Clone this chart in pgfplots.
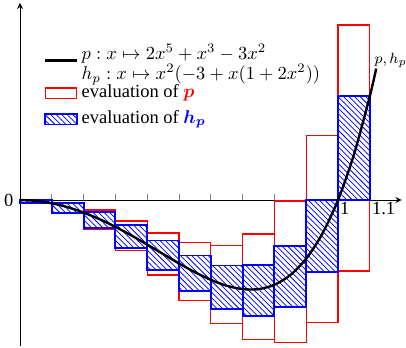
\documentclass[border=0pt]{standalone}
\usepackage{amsmath}
\usepackage{bm}
\usepackage{pgfplots}
\pgfplotsset{compat=1.18}
\usepackage{fontspec}
\setmainfont{Liberation Serif}
\usetikzlibrary{patterns}

\pgfplotsset{
  pbox/.style={draw=red, line width=0.7pt, mark=none, forget plot},
  hbox/.style={draw=blue, line width=1pt, mark=none, forget plot,
               pattern=north west lines, pattern color=blue},
}

\begin{document}
\begin{tikzpicture}
\begin{axis}[
  anchor=origin, at={(0,0)},
  x=171.9pt, y=60.9pt,
  xmin=0, xmax=1.2, ymin=-1.30, ymax=1.75,
  axis lines=middle,
  axis line style={-stealth, line width=0.5pt},
  xtick={0.1,0.2,0.3,0.4,0.5,0.6,0.7,0.8,0.9,1.0,1.1},
  xticklabels={,,,,,,,,,1,1.1},
  ytick={0}, yticklabels={0},
  hide obscured y ticks=false,
  tick align=inside,
  major tick length=3pt,
  tick style={line width=0.5pt},
  x tick label style={anchor=north west, inner sep=1pt},
  clip=false,
  legend cell align=left,
  legend style={at={(axis cs:0.057,1.452)}, anchor=north west,
                draw=none, fill=none, row sep=0.6pt,
                nodes={text depth=, text height=}},
]
% legend samples
\addlegendimage{black, line width=1.3pt}
\addlegendentry{\raisebox{0pt}[\height][\dimexpr\depth-4.6pt\relax]{%
  \def\arraystretch{0.8}$\begin{array}{@{}l@{}}
  p : x \mapsto 2x^5+x^3-3x^2\\
  h_p : x \mapsto x^2(-3+x(1+2x^2))
  \end{array}$}}
\addlegendimage{area legend, draw=red, line width=0.7pt, fill=none}
\addlegendentry{evaluation of \textcolor{red}{$\bm{p}$}}
\addlegendimage{area legend, draw=blue, line width=1pt,
                pattern=north west lines, pattern color=blue}
\addlegendentry{evaluation of \textcolor{blue}{$\bm{h_p}$}}

% interval evaluation of p (naive form)
\addplot[pbox] coordinates {(0.0,-0.03000) (0.1,-0.03000) (0.1,0.00102) (0.0,0.00102)} -- cycle;
\addplot[pbox] coordinates {(0.1,-0.11898) (0.2,-0.11898) (0.2,-0.02136) (0.1,-0.02136)} -- cycle;
\addplot[pbox] coordinates {(0.2,-0.26136) (0.3,-0.26136) (0.3,-0.08814) (0.2,-0.08814)} -- cycle;
\addplot[pbox] coordinates {(0.3,-0.44814) (0.4,-0.44814) (0.4,-0.18552) (0.3,-0.18552)} -- cycle;
\addplot[pbox] coordinates {(0.4,-0.66552) (0.5,-0.66552) (0.5,-0.29250) (0.4,-0.29250)} -- cycle;
\addplot[pbox] coordinates {(0.5,-0.89250) (0.6,-0.89250) (0.6,-0.37848) (0.5,-0.37848)} -- cycle;
\addplot[pbox] coordinates {(0.6,-1.09848) (0.7,-1.09848) (0.7,-0.40286) (0.6,-0.40286)} -- cycle;
\addplot[pbox] coordinates {(0.7,-1.24086) (0.8,-1.24086) (0.8,-0.30264) (0.7,-0.30264)} -- cycle;
\addplot[pbox] coordinates {(0.8,-1.26264) (0.9,-1.26264) (0.9,-0.00998) (0.8,-0.00998)} -- cycle;
\addplot[pbox] coordinates {(0.9,-1.09002) (1.0,-1.09002) (1.0,0.57000) (0.9,0.57000)} -- cycle;
\addplot[pbox] coordinates {(1.0,-0.63000) (1.1,-0.63000) (1.1,1.55202) (1.0,1.55202)} -- cycle;

% interval evaluation of h_p (Horner form)
\addplot[hbox] coordinates {(0.0,-0.03000) (0.1,-0.03000) (0.1,0.00000) (0.0,0.00000)} -- cycle;
\addplot[hbox] coordinates {(0.1,-0.11592) (0.2,-0.11592) (0.2,-0.02784) (0.1,-0.02784)} -- cycle;
\addplot[hbox] coordinates {(0.2,-0.25056) (0.3,-0.25056) (0.3,-0.10584) (0.2,-0.10584)} -- cycle;
\addplot[hbox] coordinates {(0.3,-0.42336) (0.4,-0.42336) (0.4,-0.22248) (0.3,-0.22248)} -- cycle;
\addplot[hbox] coordinates {(0.4,-0.61800) (0.5,-0.61800) (0.5,-0.36000) (0.4,-0.36000)} -- cycle;
\addplot[hbox] coordinates {(0.5,-0.81000) (0.6,-0.81000) (0.6,-0.49200) (0.5,-0.49200)} -- cycle;
\addplot[hbox] coordinates {(0.6,-0.96432) (0.7,-0.96432) (0.7,-0.58104) (0.6,-0.58104)} -- cycle;
\addplot[hbox] coordinates {(0.7,-1.03296) (0.8,-1.03296) (0.8,-0.57624) (0.7,-0.57624)} -- cycle;
\addplot[hbox] coordinates {(0.8,-0.95256) (0.9,-0.95256) (0.9,-0.41088) (0.8,-0.41088)} -- cycle;
\addplot[hbox] coordinates {(0.9,-0.64200) (1.0,-0.64200) (1.0,0.00000) (0.9,0.00000)} -- cycle;
\addplot[hbox] coordinates {(1.0,0.00000) (1.1,0.00000) (1.1,0.92202) (1.0,0.92202)} -- cycle;

% the polynomial itself
\addplot[black, line width=1.3pt, smooth, mark=none, forget plot] coordinates {
  (0.00,0) (0.05,-0.007374) (0.10,-0.02898) (0.15,-0.063973) (0.20,-0.11136)
  (0.25,-0.169922) (0.30,-0.23814) (0.35,-0.314121) (0.40,-0.39552)
  (0.45,-0.479469) (0.50,-0.5625) (0.55,-0.640468) (0.60,-0.70848)
  (0.65,-0.760817) (0.70,-0.79086) (0.75,-0.791016) (0.80,-0.75264)
  (0.85,-0.665964) (0.90,-0.52002) (0.95,-0.302563) (1.00,0)
  (1.05,0.402688) (1.10,0.92202) (1.12,1.166411)
} node[pos=1, anchor=south west, inner sep=0pt, xshift=-1.5pt, font=\footnotesize] {$p,h_p$};
\end{axis}
\pgfresetboundingbox
\path[use as bounding box] (-10.81pt,-79.46pt) rectangle (208.65pt,108.11pt);
\end{tikzpicture}
\end{document}
